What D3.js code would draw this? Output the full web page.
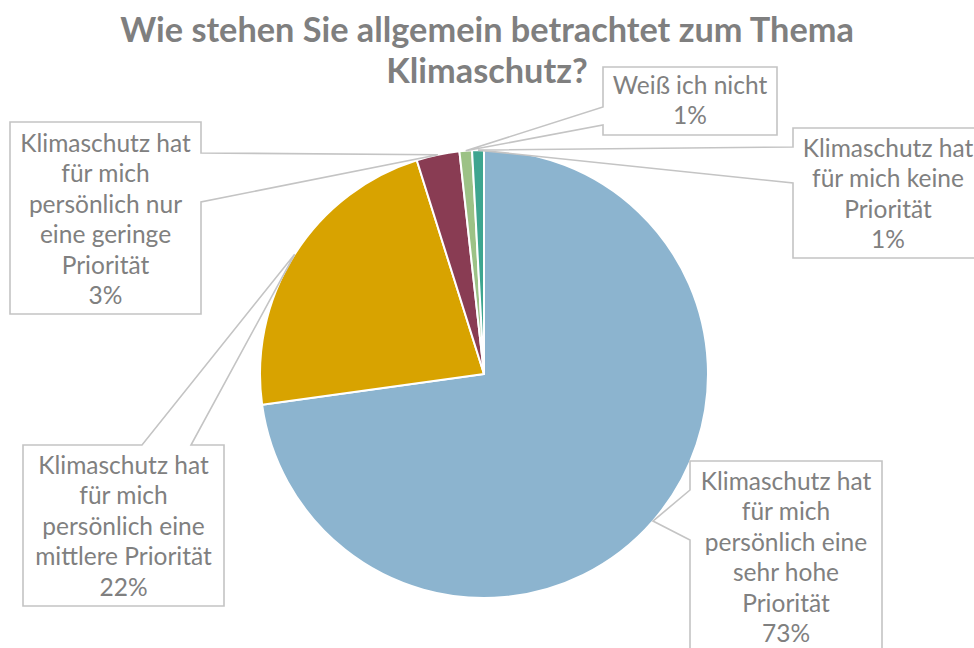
<!DOCTYPE html>
<html><head><meta charset="utf-8">
<script src="https://cdn.jsdelivr.net/npm/d3@7/dist/d3.min.js"></script>
<style>
html,body{margin:0;padding:0;background:#fff;overflow:hidden}
svg{display:block}
text{font-family:Lato,"Open Sans",sans-serif}
</style></head>
<body>
<svg id="chart" width="974" height="648"></svg>
<script>
// ---- data ----
const titleLines = ["Wie stehen Sie allgemein betrachtet zum Thema", "Klimaschutz?"];
const categories = [
  "Klimaschutz hat für mich persönlich eine sehr hohe Priorität",
  "Klimaschutz hat für mich persönlich eine mittlere Priorität",
  "Klimaschutz hat für mich persönlich nur eine geringe Priorität",
  "Weiß ich nicht",
  "Klimaschutz hat für mich keine Priorität"
];
const values = [72.8, 22.35, 3.1, 0.9, 0.85];
const percentLabels = ["73%", "22%", "3%", "1%", "1%"];
const labelLines = [
  ["Klimaschutz hat", "für mich", "persönlich eine", "sehr hohe", "Priorität"],
  ["Klimaschutz hat", "für mich", "persönlich eine", "mittlere Priorität"],
  ["Klimaschutz hat", "für mich", "persönlich nur", "eine geringe", "Priorität"],
  ["Weiß ich nicht"],
  ["Klimaschutz hat", "für mich keine", "Priorität"]
];
const colors = ["#8cb4cf", "#d8a300", "#893c53", "#9cc286", "#3ea58f"];

// ---- layout ----
const W = 974, H = 648;
const cx = 484, cy = 374, R = 224;
const boxes = [
  {x0:690, y0:461, x1:882, y1:670, side:"left",  a:490, b:540, tx:786, ty:490},
  {x0:23,  y0:445, x1:224, y1:606, side:"top",   a:142, b:191, tx:123.5, ty:474},
  {x0:10,  y0:122, x1:201, y1:314, side:"right", a:153, b:202, tx:105.5, ty:152},
  {x0:603, y0:67,  x1:777, y1:135, side:"left",  a:107, b:125, tx:690, ty:94},
  {x0:793, y0:128, x1:985, y1:258, side:"left",  a:147, b:183, tx:888, ty:157}
];
const lineH = 30.4;

const svg = d3.select("#chart");

svg.append("g").selectAll("text").data(titleLines).join("text")
  .attr("x", W/2).attr("y", (d,i) => 42 + i*41)
  .attr("text-anchor","middle")
  .attr("font-size", 34.3).attr("font-weight", 700)
  .attr("fill", "#7f7f7f")
  .text(d => d);

const pie = d3.pie().sort(null).value(d => d).startAngle(0).endAngle(2*Math.PI);
const arcs = pie(values);
const arc = d3.arc().innerRadius(0).outerRadius(R);

const g = svg.append("g").attr("transform", `translate(${cx},${cy})`);
g.selectAll("path").data(arcs).join("path")
  .attr("d", arc)
  .attr("fill", (d,i) => colors[i])
  .attr("stroke", "#fff").attr("stroke-width", 2).attr("stroke-linejoin","round");

function tipOf(d){
  const m = (d.startAngle + d.endAngle)/2;
  return [cx + Math.sin(m)*R, cy - Math.cos(m)*R];
}
function calloutPath(b, tip){
  const p = [[b.x0,b.y0]];
  if (b.side === "top") p.push([b.a,b.y0], tip, [b.b,b.y0]);
  p.push([b.x1,b.y0]);
  if (b.side === "right") p.push([b.x1,b.a], tip, [b.x1,b.b]);
  p.push([b.x1,b.y1], [b.x0,b.y1]);
  if (b.side === "left") p.push([b.x0,b.b], tip, [b.x0,b.a]);
  return "M" + p.map(q => q.join(",")).join("L") + "Z";
}

const cg = svg.append("g");
const paths = arcs.map((d,i) => calloutPath(boxes[i], tipOf(d)));
cg.selectAll("path.fill").data(paths).join("path").attr("class","fill")
  .attr("d", d => d).attr("fill", "#fff").attr("stroke","none");
cg.selectAll("path.line").data(paths).join("path").attr("class","line")
  .attr("d", d => d).attr("fill", "none")
  .attr("stroke", "#c4c4c4").attr("stroke-width", 1.6).attr("stroke-linejoin","miter");

const lg = svg.append("g");
arcs.forEach((d,i) => {
  const b = boxes[i];
  const lines = labelLines[i].concat([percentLabels[i]]);
  lg.append("text")
    .attr("text-anchor","middle")
    .attr("font-size", 24.5)
    .attr("fill", "#808080")
    .selectAll("tspan").data(lines).join("tspan")
    .attr("x", b.tx).attr("y", (t,j) => b.ty + j*lineH)
    .text(t => t);
});
</script>
</body></html>
